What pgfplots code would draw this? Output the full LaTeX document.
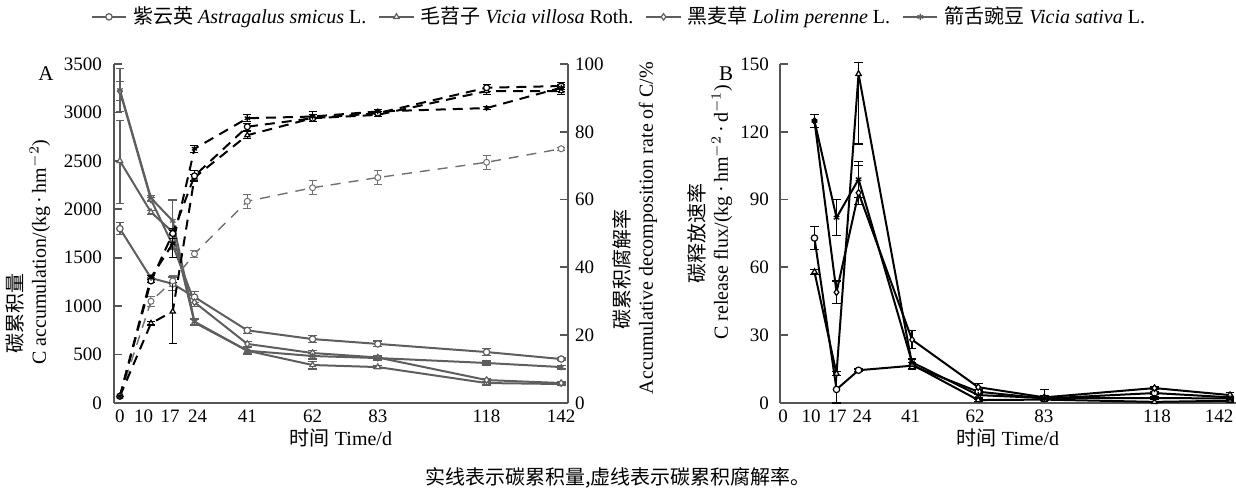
\documentclass[border=0pt]{standalone}
\usepackage{fontspec}
\setmainfont{Liberation Serif}
\newfontfamily\cjk{Noto Sans CJK SC}
\usepackage{pgfplots}
\usepackage{pgfplotstable}
\pgfplotsset{compat=1.18}

\definecolor{axc}{HTML}{555555}
\definecolor{solg}{HTML}{5E5E5E}
\definecolor{dashg}{HTML}{707070}

% ---------- Panel A: C accumulation (kg/hm2) ----------
\pgfplotstableread{
x y ep em
0 1800 60 60
10 1290 0 0
17 1230 70 70
24 1094 60 60
41 750 30 30
62 660 35 35
83 610 30 30
118 526 35 35
142 454 10 10
}\Acir
\pgfplotstableread{
x y ep em
0 2500 420 440
10 1970 20 20
17 1765 30 30
24 830 30 30
41 540 30 30
62 392 40 40
83 371 15 15
118 206 20 20
142 196 10 10
}\Atri
\pgfplotstableread{
x y ep em
0 3220 100 100
10 2100 20 20
17 1630 40 40
24 1040 40 40
41 610 25 25
62 516 30 30
83 470 20 20
118 237 20 20
142 206 10 10
}\Adia
\pgfplotstableread{
x y ep em
0 3230 220 220
10 2115 30 30
17 1880 215 215
24 840 30 30
41 540 40 40
62 485 30 30
83 464 20 20
118 413 20 20
142 371 20 20
}\Asta
% ---------- Panel A: decomposition rate (%) ----------
\pgfplotstableread{
x y ep em
0 2 0 0
10 30 1.5 1.5
17 36 1.5 1.5
24 44 1 1
41 59.5 2 2
62 63.5 2 2
83 66.5 2 2
118 71 2 2
142 75 0.5 0.5
}\Rcir
\pgfplotstableread{
x y ep em
0 2 0 0
10 23.5 0.5 0.5
17 27 8.5 9.5
24 66.5 1 1
41 79 1 1
62 84 1 1
83 85 0.5 0.5
118 92 1 1
142 92 1 1
}\Rtri
\pgfplotstableread{
x y ep em
0 2 0 0
10 36 0.5 0.5
17 50 1.5 1.5
24 67 1.5 1.5
41 81.5 1 1
62 84 1 1
83 85.5 0.5 0.5
118 93 1 1
142 93.5 1 1
}\Rdia
\pgfplotstableread{
x y ep em
0 2 0 0
10 37 0.5 0.5
17 47 4 4
24 75 1 1
41 84 1 1
62 84.5 1.5 1.5
83 86 0.5 0.5
118 87 0.5 0.5
142 93 1 1
}\Rsta
% ---------- Panel B: C release flux ----------
\pgfplotstableread{
x y ep em
10 73 5 5
17 6 6 6
24 14.5 0.5 0.5
41 16.5 1.5 1.5
62 5 1 1
83 2 1 1
118 4.4 0.5 0.5
142 2.5 0.5 0.5
}\Bcir
\pgfplotstableread{
x y ep em
10 58 1 1
17 13 1 1
24 145.6 5 31
41 17 1 1
62 1.3 0.5 0.5
83 1.5 0.5 0.5
118 0.5 0.3 0.3
142 1 0.5 0.5
}\Btri
\pgfplotstableread{
x y ep em
10 124.8 3 3
17 49 5 5
24 93 12 5
41 28 4 4
62 7 1.5 1.5
83 2.5 3.5 1
118 6.6 0.5 0.5
142 3.5 1 1
}\Bdia
\pgfplotstableread{
x y ep em
10 124.8 3 3
17 82 8 8
24 99 8 8
41 18 1.5 1.5
62 3.5 1 1
83 2.2 1 1
118 2.2 0.5 0.5
142 2 1 1
}\Bsta

\pgfplotsset{
  base/.style={
    scale only axis, anchor=south west,
    height=169.5pt,
    tick align=inside, major tick length=4pt,
    axis line style={axc, line width=0.9pt, -},
    every tick/.style={axc, line width=0.9pt},
    xtick style={draw=none},
    tick label style={font=\fontsize{9.5}{11}\selectfont},
    /pgf/number format/assume math mode=true,
    /pgf/number format/set thousands separator={},
    clip=false,
    error bars/y dir=both, error bars/y explicit,
  },
  solA/.style={solg, line width=1pt, mark size=1.6pt,
    mark options={solid, fill=white, line width=0.6pt},
    error bars/error bar style={solg, line width=0.6pt, solid},
    error bars/error mark options={solg, line width=0.6pt, mark size=2.2pt, rotate=90}},
  dashA/.style={black, line width=1pt, dash pattern=on 5pt off 3.5pt, mark size=1.5pt,
    mark options={solid, fill=white, line width=0.6pt},
    error bars/error bar style={black, line width=0.6pt, solid},
    error bars/error mark options={black, line width=0.6pt, mark size=2pt, rotate=90}},
  dashG/.style={dashg, line width=0.7pt, dash pattern=on 5pt off 4pt, mark size=1.5pt,
    mark options={solid, fill=white, line width=0.5pt},
    error bars/error bar style={dashg, line width=0.5pt, solid},
    error bars/error mark options={dashg, line width=0.5pt, mark size=2pt, rotate=90}},
  solB/.style={black, line width=1pt, mark size=1.6pt,
    mark options={solid, fill=white, line width=0.6pt},
    error bars/error bar style={black, line width=0.6pt},
    error bars/error mark options={black, line width=0.6pt, mark size=2.2pt, rotate=90}},
}

\begin{document}
\begin{tikzpicture}[every node/.style={font=\fontsize{10}{12}\selectfont}]
% ===== Panel A, left axis =====
\begin{axis}[base, at={(57pt,47.5pt)}, width=227pt,
  xmin=-1.9, xmax=144.2, ymin=0, ymax=3500,
  axis x line*=bottom, axis y line*=left,
  xtick={0,7.6,16.2,25,41,62,83,118,142},
  xticklabels={0,10,17,24,41,62,83,118,142},
  ytick={0,500,...,3500},
  yticklabel style={xshift=-2.5pt},
  legend columns=4,
  legend style={draw=none, fill=none, at={(1.1145,1.139)}, anchor=center,
    font=\fontsize{9}{11}\selectfont, inner sep=0pt,
    /tikz/every odd column/.append style={column sep=1pt},
    /tikz/every even column/.append style={column sep=4pt}},
]
\addplot[solA, mark=*] table[x=x,y=y,y error plus=ep,y error minus=em]{\Acir};
\addlegendentry{{\cjk 紫云英} \textit{Astragalus smicus} L.}
\addplot[solA, mark=triangle*] table[x=x,y=y,y error plus=ep,y error minus=em]{\Atri};
\addlegendentry{{\cjk 毛苕子} \textit{Vicia villosa} Roth.}
\addplot[solA, mark=diamond*] table[x=x,y=y,y error plus=ep,y error minus=em]{\Adia};
\addlegendentry{{\cjk 黑麦草} \textit{Lolim perenne} L.}
\addplot[solA, mark=asterisk] table[x=x,y=y,y error plus=ep,y error minus=em]{\Asta};
\addlegendentry{{\cjk 箭舌豌豆} \textit{Vicia sativa} L.}
\end{axis}
% ===== Panel A, right axis =====
\begin{axis}[base, at={(57pt,47.5pt)}, width=227pt,
  xmin=-1.9, xmax=144.2, ymin=0, ymax=100,
  axis x line=none, axis y line*=right,
  ytick={0,20,...,100},
]
\addplot[dashG, mark=*] table[x=x,y=y,y error plus=ep,y error minus=em]{\Rcir};
\addplot[dashA, mark=triangle*] table[x=x,y=y,y error plus=ep,y error minus=em]{\Rtri};
\addplot[dashA, mark=*] table[x=x,y=y,y error plus=ep,y error minus=em]{\Rdia};
\addplot[dashA, mark=asterisk] table[x=x,y=y,y error plus=ep,y error minus=em]{\Rsta};
\end{axis}
% ===== Panel B =====
\begin{axis}[base, at={(390pt,47.5pt)}, width=228pt,
  xmin=-0.95, xmax=143.9, ymin=0, ymax=150,
  axis x line*=bottom, axis y line*=left,
  xtick={0,8.9,17.2,25.1,40.5,61,82.9,118.8,138.5},
  xticklabels={0,10,17,24,41,62,83,118,142},
  ytick={0,30,...,150},
  yticklabel style={xshift=-2pt},
]
\addplot[solB, mark=*] table[x=x,y=y,y error plus=ep,y error minus=em]{\Bcir};
\addplot[solB, mark=triangle*] table[x=x,y=y,y error plus=ep,y error minus=em]{\Btri};
\addplot[solB, mark=diamond*] table[x=x,y=y,y error plus=ep,y error minus=em]{\Bdia};
\addplot[solB, mark=asterisk] table[x=x,y=y,y error plus=ep,y error minus=em]{\Bsta};
\end{axis}
% ===== labels =====
\node[rotate=90] at (7.5pt,92pt) {\cjk 碳累积量};
\node[rotate=90] at (20pt,123pt) {C accumulation/(kg\,·\,hm$^{-2}$)};
\node[rotate=90] at (311pt,114pt) {\cjk 碳累积腐解率};
\node[rotate=90] at (324pt,135pt) {Accumulative decomposition rate of C/\%};
\node[rotate=90] at (348.5pt,132pt) {\cjk 碳释放速率};
\node[rotate=90] at (361pt,143pt) {C release flux/(kg\,·\,hm$^{-2}$\,·\,d$^{-1}$)};
\node at (170.5pt,30pt) {{\cjk 时间} Time/d};
\node at (504pt,30pt) {{\cjk 时间} Time/d};
\node at (309pt,10pt) {\cjk 实线表示碳累积量,虚线表示碳累积腐解率。};
\node[font=\fontsize{10.5}{12}\selectfont] at (23pt,212pt) {A};
\node[font=\fontsize{10.5}{12}\selectfont] at (363pt,212pt) {B};
\pgfresetboundingbox
\path (0,0) rectangle (618pt,249pt);
\end{tikzpicture}
\end{document}
